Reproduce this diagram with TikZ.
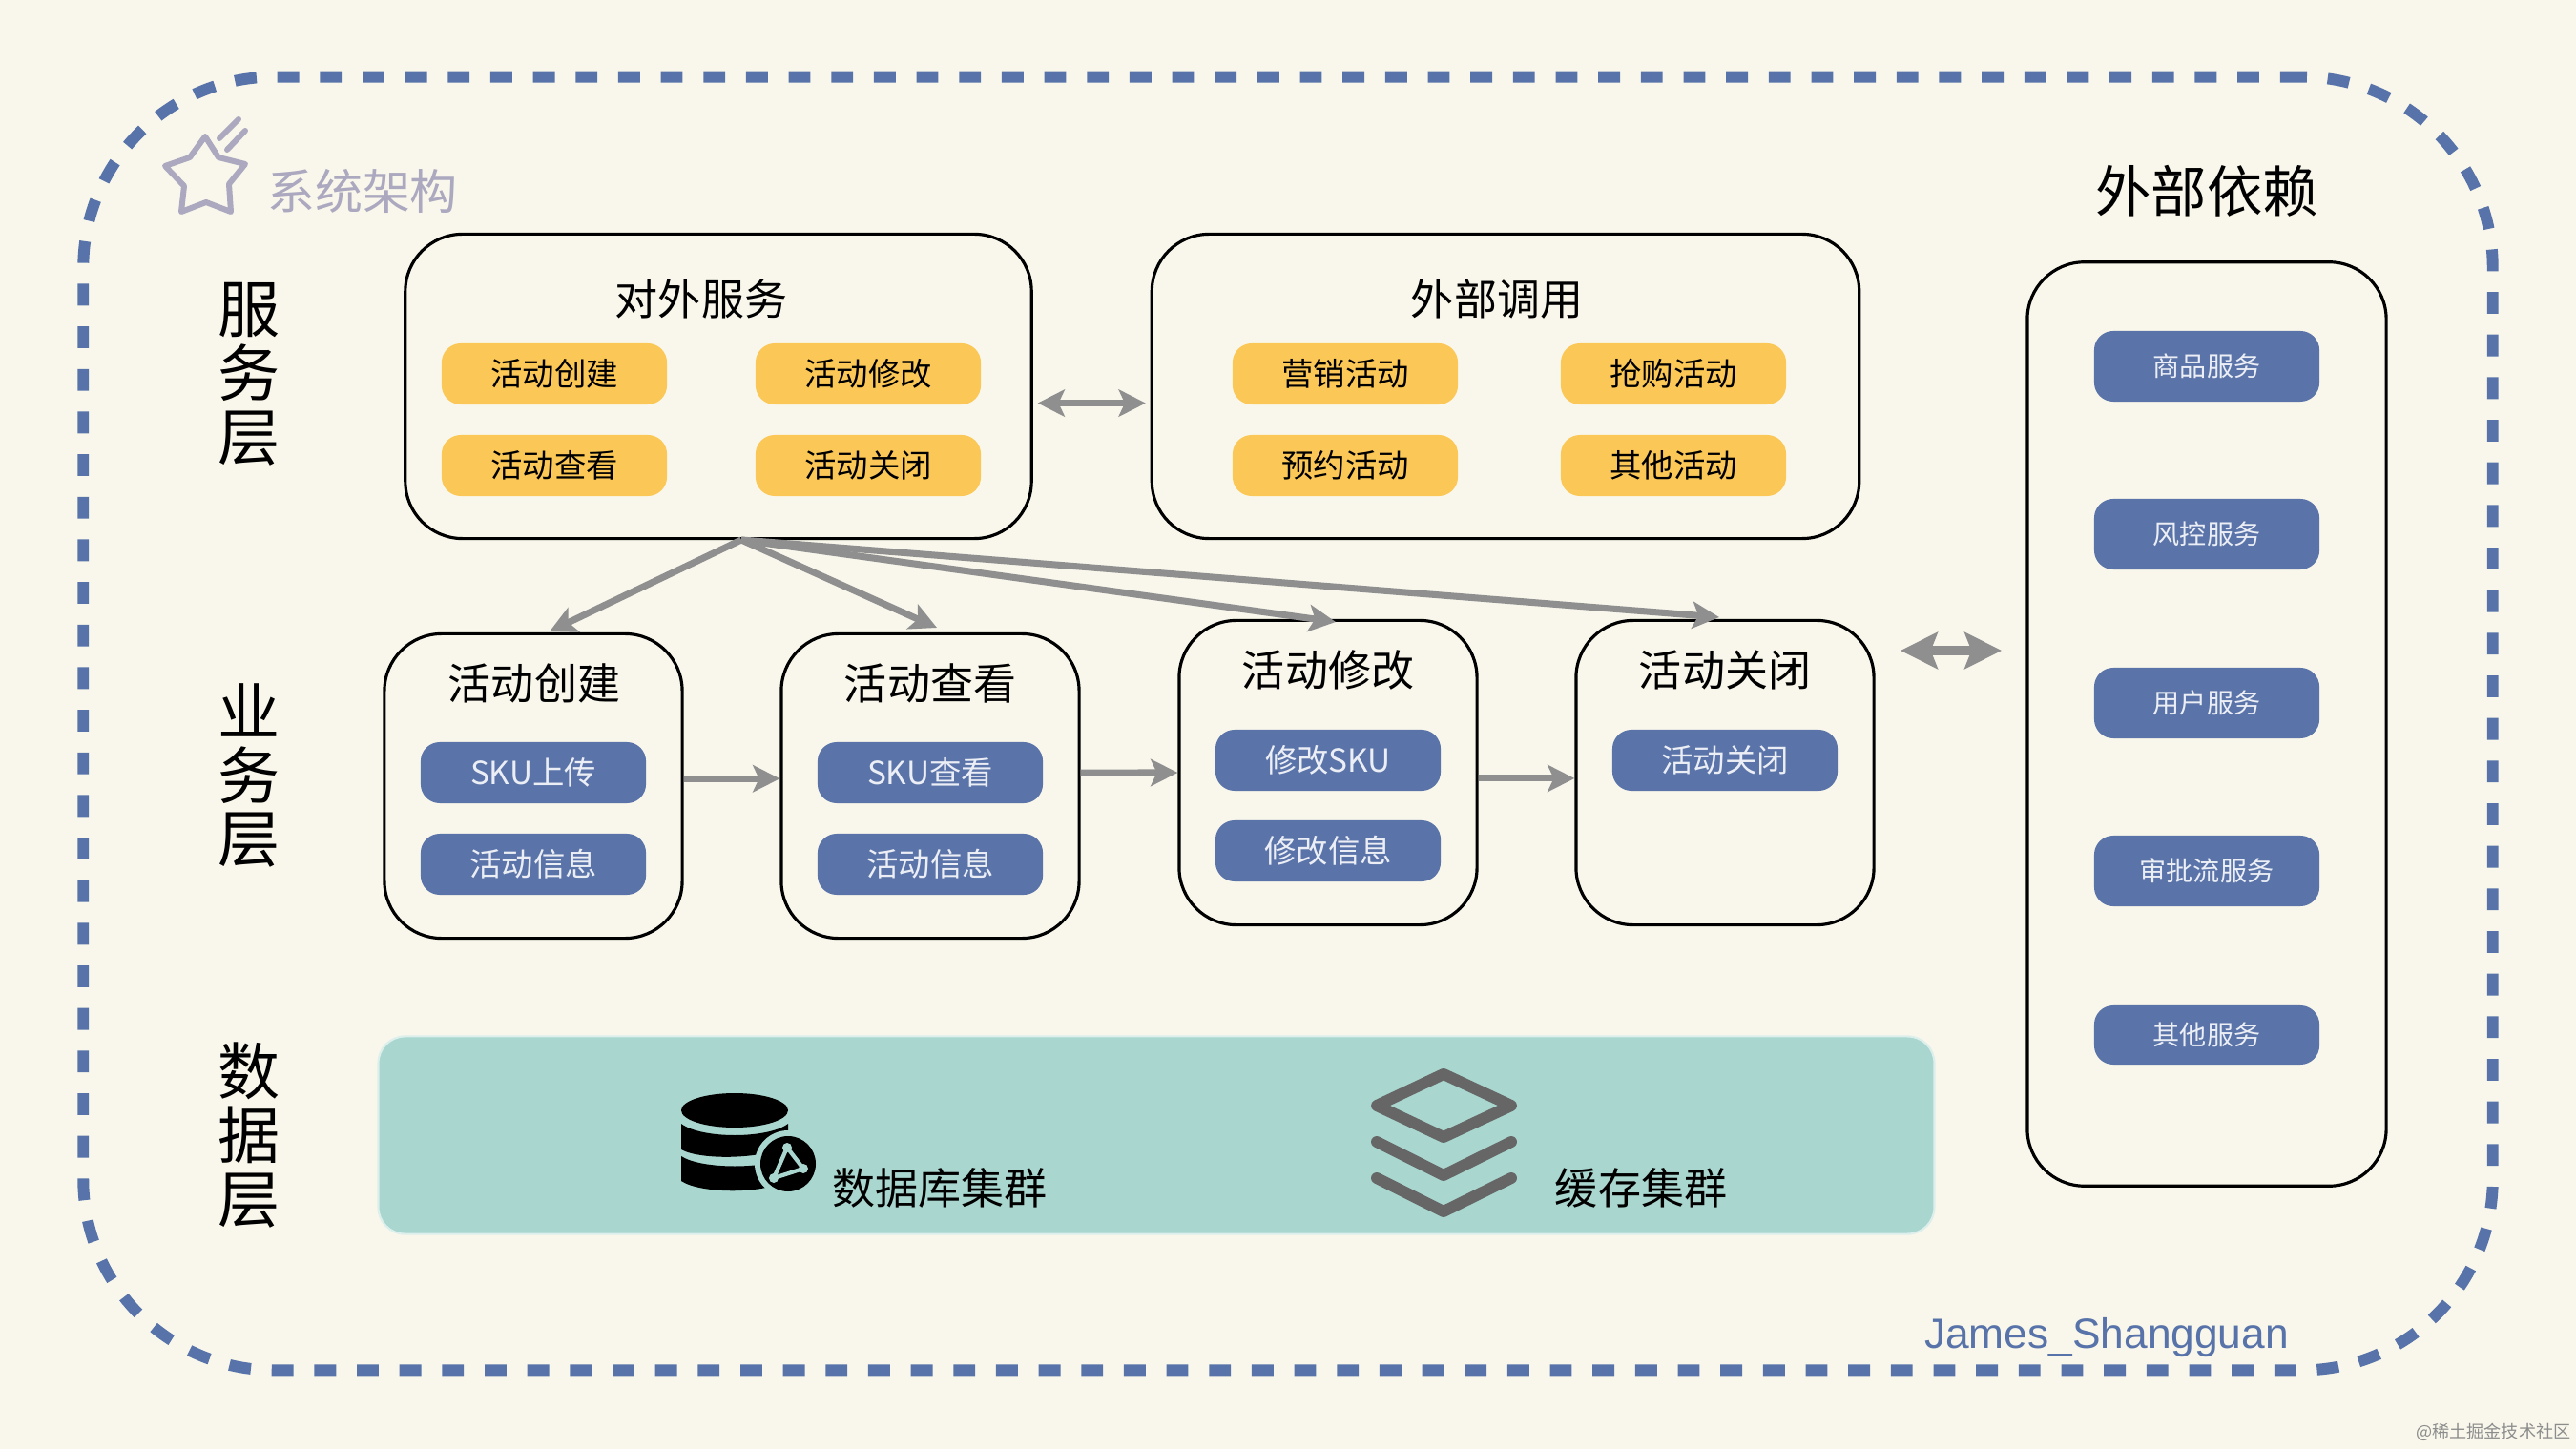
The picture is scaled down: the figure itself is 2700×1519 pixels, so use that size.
\documentclass[tikz,border=0pt]{standalone}
\usepackage{fontspec}
\setmainfont{Noto Sans CJK SC}
\newfontfamily\latinfont{Liberation Sans}
\usetikzlibrary{arrows.meta, calc}
\definecolor{paper}{HTML}{F9F7EB}
\definecolor{frameblue}{HTML}{5773A9}
\definecolor{pillblue}{HTML}{5A73A8}
\definecolor{pillyellow}{HTML}{FBC858}
\definecolor{datateal}{HTML}{A9D6CF}
\definecolor{flowgrey}{HTML}{8F8F8F}
\definecolor{starlilac}{HTML}{ABA8BF}
\definecolor{cachegrey}{HTML}{666666}
\tikzset{
  >={Stealth[length=8pt,width=8pt,inset=1.8pt]},
  frame/.style   ={rectangle, draw=frameblue, line width=3.4pt, rounded corners=2cm,
                   dash pattern=on 6.5pt off 6.2pt, minimum width=25.24cm, minimum height=13.55cm},
  wideline/.style={rectangle, draw=black, line width=0.9pt, rounded corners=0.6cm},
  ypill/.style   ={rectangle, fill=pillyellow, rounded corners=0.2cm, minimum width=2.36cm,
                   minimum height=0.64cm, inner sep=0pt, font=\fontsize{9.5}{11}\selectfont},
  bpill/.style   ={ypill, fill=pillblue, text=white!88!pillblue},
  dpill/.style   ={bpill, minimum height=0.74cm, font=\fontsize{8}{10}\selectfont},
  boxtitle/.style={inner sep=0pt, font=\fontsize{12.8}{15}\selectfont},
  layer/.style   ={inner sep=0pt, align=center, font=\fontsize{18.5}{19}\selectfont},
  flow/.style    ={draw=flowgrey, line width=2pt, ->},
  bothflow/.style={draw=flowgrey, line width=2pt, <->},
  bigflow/.style ={draw=flowgrey, line width=2.8pt, {Stealth[length=11pt,width=10.8pt,inset=2pt]}-{Stealth[length=11pt,width=10.8pt,inset=2pt]}},
}
\begin{document}
\begin{tikzpicture}[x=0.01cm,y=-0.01cm]
  \useasboundingbox[fill=paper] (0,0) rectangle (2700,1519);
  \node[frame] (outer) at (1350,758.5) {};

  % --- heading with the star ------------------------------------------------
  \draw[starlilac, line width=1.7pt, line join=round, fill=none]
    (215,143) -- (229,165) -- (257,172) -- (240,193) -- (242,222) -- (216,212)
    -- (190,222) -- (193,195) -- (173,174) -- (199,165) -- cycle;
  \draw[starlilac, line width=1.7pt, line cap=round] (230,145) -- (250,125);
  \draw[starlilac, line width=1.7pt, line cap=round] (238,157) -- (257,137);
  \node[inner sep=0pt, text=starlilac, font=\fontsize{14.2}{16}\selectfont] (arch) at (380,200) {系统架构};
  \node[inner sep=0pt, font=\fontsize{16.6}{19}\selectfont] (deptitle) at (2313,200) {外部依赖};

  % --- layer names ----------------------------------------------------------
  \node[layer] (lsvc) at (261,392) {服\\务\\层};
  \node[layer] (lbiz) at (261,813) {业\\务\\层};
  \node[layer] (ldat) at (261,1190) {数\\据\\层};

  % --- service layer --------------------------------------------------------
  \node[wideline, minimum width=6.56cm, minimum height=3.19cm] (svc) at (753,405) {};
  \node[wideline, minimum width=7.41cm, minimum height=3.19cm] (ext) at (1578,405) {};
  \node[boxtitle] (svct) at (735,313) {对外服务};
  \node[boxtitle] (extt) at (1569,313) {外部调用};
  \node[ypill] (sa) at (581,392) {活动创建};
  \node[ypill] (sb) at (910,392) {活动修改};
  \node[ypill] (sc) at (581,488) {活动查看};
  \node[ypill] (sd) at (910,488) {活动关闭};
  \node[ypill] (ea) at (1410,392) {营销活动};
  \node[ypill] (eb) at (1754,392) {抢购活动};
  \node[ypill] (ec) at (1410,488) {预约活动};
  \node[ypill] (ed) at (1754,488) {其他活动};

  % --- business layer -------------------------------------------------------
  \node[wideline, minimum width=3.12cm, minimum height=3.19cm] (biza) at (559,824) {};
  \node[wideline, minimum width=3.12cm, minimum height=3.19cm] (bizb) at (975,824) {};
  \node[wideline, minimum width=3.12cm, minimum height=3.19cm] (bizc) at (1392,810) {};
  \node[wideline, minimum width=3.12cm, minimum height=3.19cm] (bizd) at (1808,810) {};
  \node[boxtitle] (bizat) at (560,716) {活动创建};
  \node[boxtitle] (bizbt) at (975,716) {活动查看};
  \node[boxtitle] (bizct) at (1392,702) {活动修改};
  \node[boxtitle] (bizdt) at (1808,702) {活动关闭};
  \node[bpill] (ba) at (559,810) {SKU上传};
  \node[bpill] (bb) at (559,906) {活动信息};
  \node[bpill] (bc) at (975,810) {SKU查看};
  \node[bpill] (bd) at (975,906) {活动信息};
  \node[bpill] (be) at (1392,797) {修改SKU};
  \node[bpill] (bf) at (1392,892) {修改信息};
  \node[bpill] (bg) at (1808,797) {活动关闭};

  % --- data layer -----------------------------------------------------------
  \node[rectangle, fill=datateal, draw=white!60!datateal, line width=0.6pt, rounded corners=0.28cm,
        minimum width=16.3cm, minimum height=2.07cm] (data) at (1212,1190) {};
  % database
  \fill[black] (770,1164) ellipse [x radius=56, y radius=18];
  \fill[black] (714,1178) .. controls (735,1194) and (805,1194) .. (826,1178)
    -- (826,1200) .. controls (805,1215) and (735,1217) .. (714,1205) -- cycle;
  \fill[black] (714,1212) .. controls (735,1226) and (805,1226) .. (826,1212)
    -- (826,1236) .. controls (805,1252) and (735,1252) .. (714,1238) -- cycle;
  \fill[datateal] (826,1220) circle (35);
  \fill[black] (826,1220) circle (29);
  \draw[datateal, line width=1.2pt, line join=round] (825,1203) -- (811,1235) -- (842,1225) -- cycle;
  \fill[datateal] (825,1203) circle (5);
  \fill[datateal] (811,1235) circle (5);
  \fill[datateal] (842,1225) circle (5);
  \node[boxtitle] (dbt) at (985,1245) {数据库集群};
  % cache
  \draw[cachegrey, line width=3.4pt, line join=round]
    (1513,1126) -- (1584,1159) -- (1513,1192) -- (1443,1159) -- cycle;
  \draw[cachegrey, line width=3.4pt, line cap=round, line join=round]
    (1443,1197) -- (1513,1232) -- (1584,1197);
  \draw[cachegrey, line width=3.4pt, line cap=round, line join=round]
    (1443,1235) -- (1513,1270) -- (1584,1235);
  \node[boxtitle] (cachet) at (1720,1245) {缓存集群};

  % --- external dependencies ------------------------------------------------
  \node[wideline, minimum width=3.76cm, minimum height=9.68cm] (dep) at (2313,759) {};
  \node[dpill] (da) at (2313,384) {商品服务};
  \node[dpill] (db) at (2313,560) {风控服务};
  \node[dpill] (dc) at (2313,737) {用户服务};
  \node[dpill] (dd) at (2313,913) {审批流服务};
  \node[dpill, minimum height=0.62cm] (de) at (2313,1085) {其他服务};

  \node[inner sep=0pt, text=frameblue, font=\latinfont\fontsize{12.6}{15}\selectfont] (sign) at (2208,1402) {James\_Shangguan};
  \node[anchor=east, inner sep=0pt, text=black!45, font=\fontsize{5.15}{6}\selectfont] (mark) at (2695,1501) {@稀土掘金技术社区};

  % --- connectors -----------------------------------------------------------
  \coordinate (fan) at (777,566);
  \coordinate (fana) at (576,662);
  \coordinate (fanb) at (982,658);
  \coordinate (fanc) at (1400,652);
  \coordinate (fand) at (1802,647);
  \coordinate (bigl) at (1992,682);
  \coordinate (bigr) at (2098,682);
  \draw[flow] (fan) -- (fana);
  \draw[flow] (fan) -- (fanb);
  \draw[flow] (fan) -- (fanc);
  \draw[flow] (fan) -- (fand);
  \draw[bothflow, shorten >=1.4pt, shorten <=1.4pt] ([yshift=-5pt]svc.east) -- ([yshift=-5pt]ext.west);
  \draw[bigflow] (bigl) -- (bigr);
  \draw[flow] ([yshift=2.2pt]biza.east) -- ([yshift=2.2pt]bizb.west);
  \draw[flow] ([yshift=3.97pt]bizb.east) -- (bizc.west);
  \draw[flow] ([yshift=-1.7pt]bizc.east) -- ([yshift=-1.7pt]bizd.west);
\end{tikzpicture}
\end{document}
